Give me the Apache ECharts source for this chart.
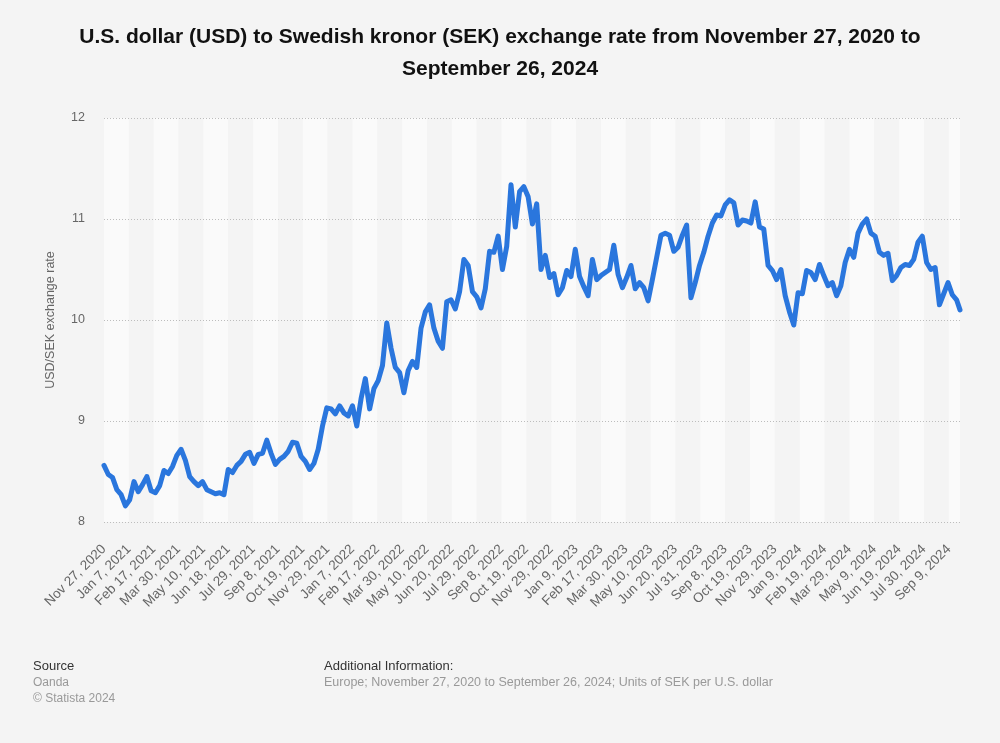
<!DOCTYPE html>
<html>
<head>
<meta charset="utf-8">
<script src="https://cdn.jsdelivr.net/npm/echarts@6/dist/echarts.min.js"></script>
<style>
html,body{margin:0;padding:0;background:#f4f4f4;}
#chart{width:1000px;height:743px;}
</style>
</head>
<body>
<div id="chart"></div>
<script>
// x-axis tick labels (one label every 29 business days)
const tickLabels = [
  "Nov 27, 2020","Jan 7, 2021","Feb 17, 2021","Mar 30, 2021","May 10, 2021","Jun 18, 2021","Jul 29, 2021","Sep 8, 2021","Oct 19, 2021","Nov 29, 2021",
  "Jan 7, 2022","Feb 17, 2022","Mar 30, 2022","May 10, 2022","Jun 20, 2022","Jul 29, 2022","Sep 8, 2022","Oct 19, 2022","Nov 29, 2022",
  "Jan 9, 2023","Feb 17, 2023","Mar 30, 2023","May 10, 2023","Jun 20, 2023","Jul 31, 2023","Sep 8, 2023","Oct 19, 2023","Nov 29, 2023",
  "Jan 9, 2024","Feb 19, 2024","Mar 29, 2024","May 9, 2024","Jun 19, 2024","Jul 30, 2024","Sep 9, 2024"
];
const labelStep = 29;      // business days between labels
const sampleStep = 5;      // one value per week (5 business days)
const lastDayIndex = 999;  // Sep 26, 2024
const lastValue = 10.10;

// USD/SEK weekly values (business-day index = k*5)
const weeklyValues = [
  8.56,8.47,8.44,8.32,8.27,8.16,8.22,8.40,8.30,8.37,
  8.45,8.31,8.29,8.36,8.51,8.48,8.55,8.66,8.72,8.61,
  8.45,8.40,8.36,8.40,8.32,8.30,8.28,8.29,8.27,8.52,
  8.49,8.56,8.60,8.67,8.69,8.58,8.67,8.68,8.81,8.68,
  8.57,8.62,8.65,8.70,8.79,8.78,8.65,8.60,8.52,8.58,
  8.72,8.95,9.13,9.12,9.07,9.15,9.08,9.05,9.15,8.95,
  9.22,9.42,9.12,9.32,9.40,9.55,9.97,9.72,9.53,9.48,
  9.28,9.50,9.59,9.53,9.92,10.08,10.15,9.92,9.79,9.72,
  10.18,10.20,10.11,10.28,10.60,10.54,10.28,10.23,10.12,10.31,
  10.68,10.67,10.83,10.50,10.73,11.34,10.92,11.27,11.32,11.22,
  10.95,11.15,10.50,10.64,10.42,10.46,10.25,10.32,10.49,10.43,
  10.70,10.43,10.33,10.24,10.60,10.40,10.44,10.47,10.50,10.74,
  10.45,10.32,10.42,10.54,10.31,10.37,10.32,10.19,10.40,10.62,
  10.84,10.86,10.84,10.68,10.72,10.84,10.94,10.22,10.37,10.54,
  10.67,10.83,10.96,11.04,11.03,11.14,11.19,11.16,10.94,10.99,
  10.98,10.96,11.17,10.92,10.90,10.54,10.49,10.40,10.50,10.24,
  10.08,9.95,10.27,10.26,10.49,10.47,10.40,10.55,10.44,10.34,
  10.37,10.24,10.34,10.57,10.70,10.62,10.86,10.95,11.00,10.86,
  10.83,10.67,10.64,10.66,10.39,10.44,10.52,10.55,10.54,10.60,
  10.77,10.83,10.57,10.50,10.52,10.15,10.26,10.37,10.25,10.20
];
const yTicks = [8, 9, 10, 11, 12];

const seriesData = weeklyValues.map((v, k) => [k * sampleStep, v]);
seriesData.push([lastDayIndex, lastValue]);

const chart = echarts.init(document.getElementById('chart'), null, {renderer: 'canvas'});
const font = '"Liberation Sans", Arial, Helvetica, sans-serif';

chart.setOption({
  backgroundColor: '#f4f4f4',
  animation: false,
  title: [
    {
      text: 'U.S. dollar (USD) to Swedish kronor (SEK) exchange rate from November 27, 2020 to\nSeptember 26, 2024',
      left: 'center', top: 21, padding: 0,
      textStyle: {fontFamily: font, fontSize: 21, fontWeight: 'bold', color: '#111', lineHeight: 32}
    },
    {text: 'Source', left: 33, top: 660, padding: 0, textStyle: {fontFamily: font, fontSize: 13, fontWeight: 'normal', color: '#333'}},
    {text: 'Oanda\n© Statista 2024', left: 33, top: 675, padding: 0, textStyle: {fontFamily: font, fontSize: 12, fontWeight: 'normal', color: '#999', lineHeight: 16}},
    {text: 'Additional Information:', left: 324, top: 660, padding: 0, textStyle: {fontFamily: font, fontSize: 13, fontWeight: 'normal', color: '#333'}},
    {text: 'Europe; November 27, 2020 to September 26, 2024; Units of SEK per U.S. dollar', left: 324, top: 676, padding: 0, textStyle: {fontFamily: font, fontSize: 12.5, fontWeight: 'normal', color: '#999'}}
  ],
  grid: {left: 104, right: 40, top: 118, bottom: 221, containLabel: false},
  xAxis: {
    type: 'value',
    z: 0,
    min: 0,
    max: lastDayIndex,
    interval: labelStep,
    axisLine: {show: false},
    axisTick: {show: false},
    splitLine: {show: false},
    splitArea: {show: true, areaStyle: {color: ['#fafafa', '#f4f4f4']}},
    axisLabel: {
      rotate: 45,
      margin: 25,
      fontFamily: font,
      fontSize: 13.5,
      color: '#666',
      showMaxLabel: true,
      formatter: function (v) {
        if (v % labelStep !== 0) return '';
        const i = Math.round(v / labelStep);
        return tickLabels[i] || '';
      }
    }
  },
  yAxis: {
    type: 'value',
    z: 1,
    min: yTicks[0],
    max: yTicks[yTicks.length - 1],
    interval: 1,
    name: 'USD/SEK exchange rate',
    nameLocation: 'middle',
    nameGap: 47,
    nameTextStyle: {fontFamily: font, fontSize: 12.5, color: '#666'},
    axisLine: {show: false},
    axisTick: {show: false},
    axisLabel: {fontFamily: font, fontSize: 12.5, color: '#666', margin: 19},
    splitLine: {show: true, lineStyle: {color: '#bdbdbd', type: [1, 2], width: 1}}
  },
  series: [{
    type: 'line',
    z: 3,
    data: seriesData,
    showSymbol: false,
    symbol: 'none',
    lineStyle: {color: '#2a76dd', width: 5, join: 'round', cap: 'round'},
    itemStyle: {color: '#2a76dd'}
  }]
});
</script>
</body>
</html>
